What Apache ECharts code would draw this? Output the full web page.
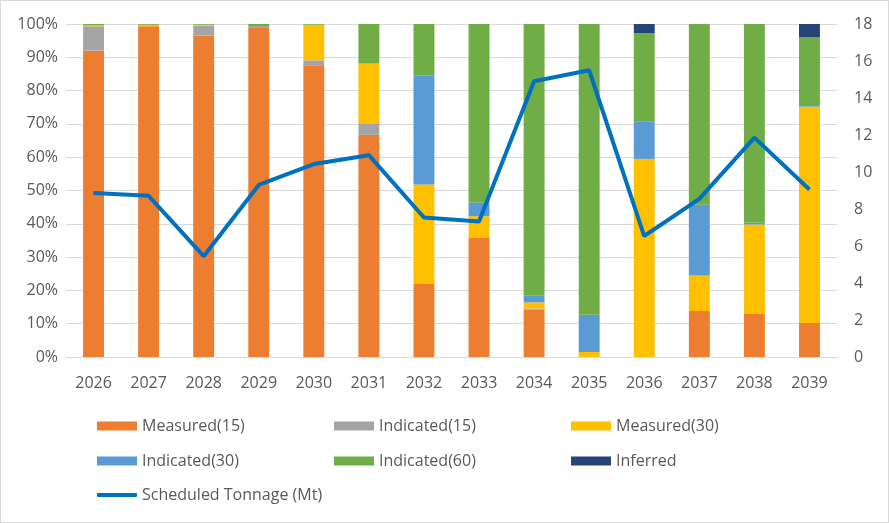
<!DOCTYPE html>
<html><head><meta charset="utf-8">
<script src="https://cdn.jsdelivr.net/npm/echarts@6/dist/echarts.min.js"></script>
<style>
html,body{margin:0;padding:0;background:#fff;}
#c{width:889px;height:523px;box-sizing:border-box;border:1px solid #D9D9D9;}
</style></head><body>
<div id="c"></div>
<script>
const years = ['2026','2027','2028','2029','2030','2031','2032','2033','2034','2035','2036','2037','2038','2039'];
const measured15  = [92.0, 99.3, 96.5, 98.8, 87.6, 66.7, 21.9, 35.8, 14.2, 0, 0, 13.8, 12.9, 10.2];
const indicated15 = [7.3, 0, 3.0, 0.6, 1.5, 3.5, 0, 0.2, 0.4, 0, 0, 0, 0, 0];
const measured30  = [0.4, 0.5, 0.3, 0, 10.7, 17.9, 29.9, 6.3, 1.8, 1.5, 59.5, 10.7, 26.9, 64.9];
const indicated30 = [0, 0, 0, 0, 0, 0, 32.8, 4.0, 2.0, 11.2, 11.3, 21.2, 0.5, 0.2];
const indicated60 = [0.3, 0.2, 0.2, 0.6, 0.2, 11.9, 15.4, 53.7, 81.6, 87.3, 26.5, 54.3, 59.7, 20.7];
const inferred    = [0, 0, 0, 0, 0, 0, 0, 0, 0, 0, 2.7, 0, 0, 4.0];
const tonnage     = [8.86, 8.71, 5.45, 9.30, 10.43, 10.91, 7.54, 7.33, 14.91, 15.5, 6.54, 8.55, 11.86, 9.05];

const FONT = 'Open Sans';
const FS = 16;
const TXT = '#595959';
const barSeries = [
  ['Measured(15)', measured15, '#ED7D31'],
  ['Indicated(15)', indicated15, '#A5A5A5'],
  ['Measured(30)', measured30, '#FFC000'],
  ['Indicated(30)', indicated30, '#5B9BD5'],
  ['Indicated(60)', indicated60, '#70AD47'],
  ['Inferred', inferred, '#264478']
].map(([n, d, c]) => ({
  name: n, type: 'bar', stack: 'a', data: d, barWidth: '38%',
  itemStyle: {color: c}, yAxisIndex: 0
}));

const legendPos = [
  ['Measured(15)', 96, 417], ['Indicated(15)', 333, 417], ['Measured(30)', 570, 417],
  ['Indicated(30)', 96, 452], ['Indicated(60)', 333, 452], ['Inferred', 570, 452],
  ['Scheduled Tonnage (Mt)', 96, 486]
];
const legends = legendPos.map(([n, x, y]) => ({
  data: [n], left: x, top: y, padding: 0, itemWidth: 40, itemHeight: n.startsWith('Sched') ? 4 : 9,
  itemGap: 4, textStyle: {color: TXT, fontSize: FS, fontFamily: FONT, padding: [0, 0, 0, 0]},
  icon: n.startsWith('Sched') ? 'roundRect' : 'rect'
}));

const chart = echarts.init(document.getElementById('c'));
chart.setOption({
  animation: false,
  textStyle: {fontFamily: FONT},
  legend: legends,
  grid: {left: 65, right: 51, top: 23, bottom: 165},
  xAxis: {
    type: 'category', data: years,
    axisLine: {lineStyle: {color: '#D9D9D9', width: 1}},
    axisTick: {show: false},
    axisLabel: {color: TXT, fontSize: FS, fontFamily: FONT, margin: 18}
  },
  yAxis: [
    {type: 'value', min: 0, max: 100, interval: 10,
     axisLabel: {formatter: '{value}%', color: TXT, fontSize: FS, fontFamily: FONT, margin: 8},
     axisLine: {show: false}, axisTick: {show: false},
     splitLine: {lineStyle: {color: '#D9D9D9', width: 1}}},
    {type: 'value', min: 0, max: 18, interval: 2, position: 'right',
     axisLabel: {color: TXT, fontSize: FS, fontFamily: FONT, margin: 17},
     axisLine: {show: false}, axisTick: {show: false}, splitLine: {show: false}}
  ],
  series: barSeries.concat([{
    name: 'Scheduled Tonnage (Mt)', type: 'line', data: tonnage, yAxisIndex: 1,
    symbol: 'none', lineStyle: {color: '#0070C0', width: 4}, itemStyle: {color: '#0070C0'}, z: 5
  }])
});
</script>
</body></html>
